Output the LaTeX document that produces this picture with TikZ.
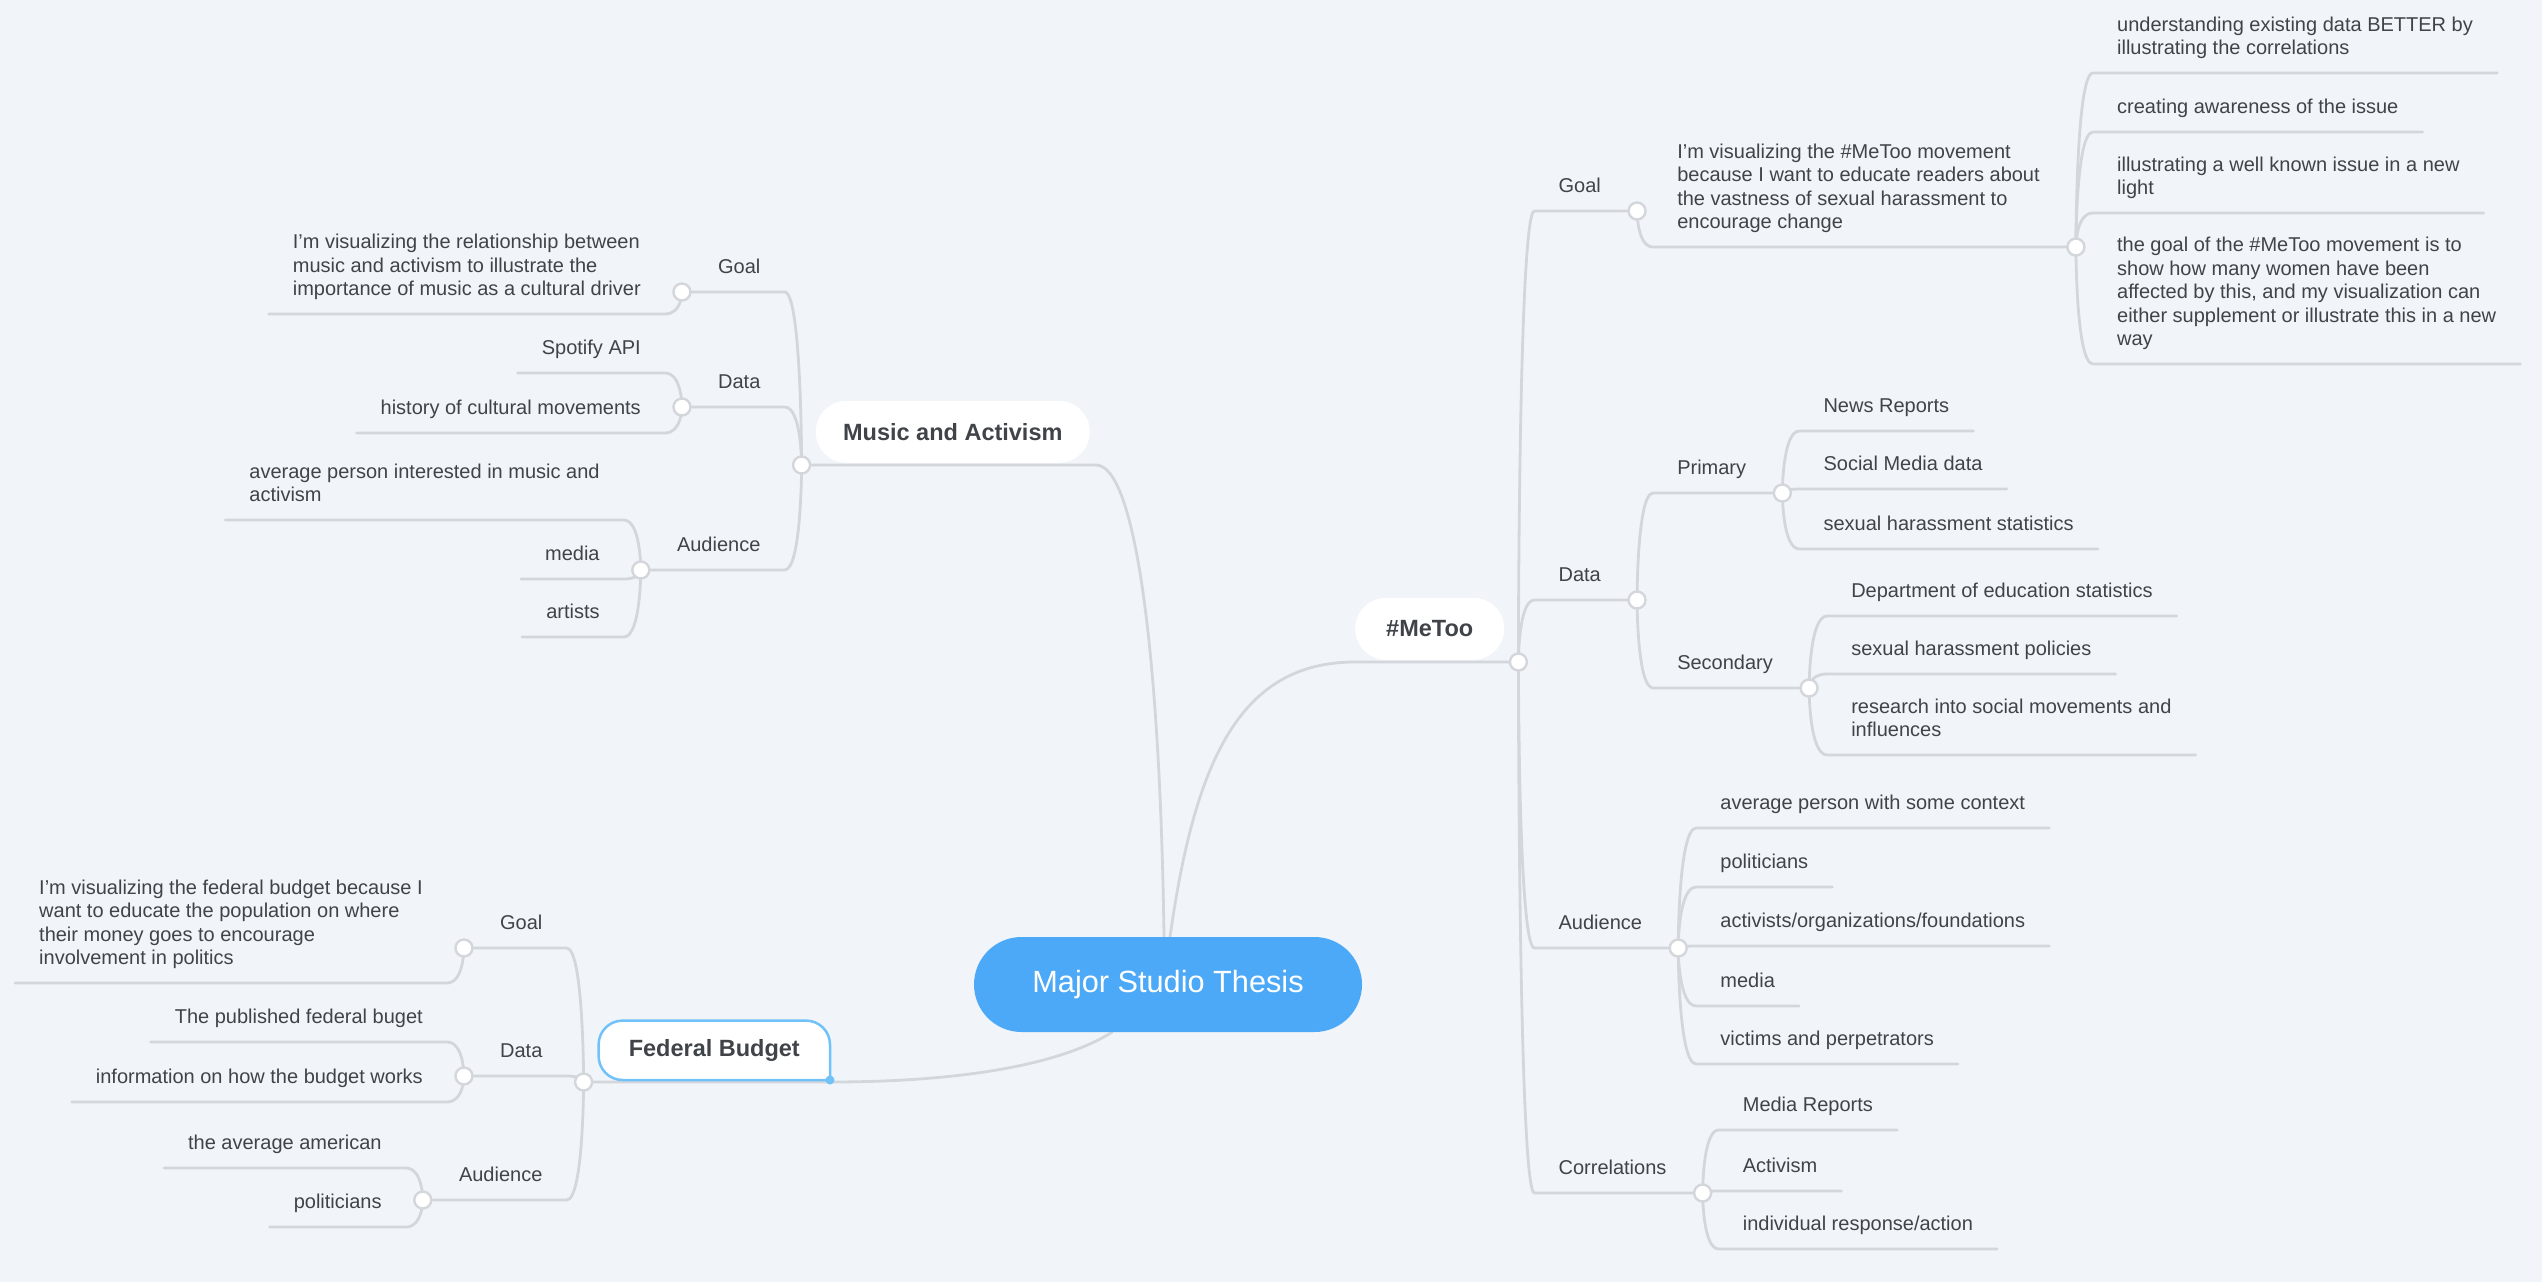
\documentclass[tikz,border=0pt]{standalone}
\usepackage{fontspec}
\setmainfont{Liberation Sans}
\usetikzlibrary{calc}
\definecolor{bgc}{HTML}{F1F4F8}
\definecolor{linec}{HTML}{D3D6DB}
\definecolor{txt}{HTML}{404449}
\definecolor{rootc}{HTML}{4CA9F8}
\definecolor{selc}{HTML}{72C2FA}
\pgfdeclarelayer{bglayer}
\pgfdeclarelayer{linelayer}
\pgfsetlayers{bglayer,linelayer,main}
\newcommand\leaffont{\fontsize{20}{23.5}\selectfont}
\newcommand\topfont{\fontsize{23.5}{28}\selectfont\bfseries}
\newcommand\rootfont{\fontsize{30.7}{36}\selectfont}
\newcommand\rbr[3]{\draw[conn] (#1.center) .. controls (#1.center) and (#1.center |- #2.south west) .. (#2.south west) -- (#3);}
\newcommand\lbr[3]{\draw[conn] (#1.center) .. controls (#1.center) and (#1.center |- #2.south east) .. (#2.south east) -- (#3);}
\begin{document}
\begin{tikzpicture}[x=1pt,y=-1pt,
  leaf/.style={inner xsep=24pt, inner ysep=11pt, font=\leaffont, text=txt, align=left},
  rleaf/.style={leaf, anchor=south west},
  lleaf/.style={leaf, anchor=south east},
  hub/.style={circle, fill=white, draw=linec, line width=2.4pt, minimum size=17pt, inner sep=0pt},
  topic/.style={fill=white, rounded corners=31pt, minimum height=62pt, inner sep=0pt, font=\topfont, text=txt},
  rootnode/.style={fill=rootc, rounded corners=47.5pt, minimum width=388pt, minimum height=95pt, inner sep=0pt, font=\rootfont, text=white},
  conn/.style={draw=linec, line width=2.8pt, line cap=round}]
\useasboundingbox (0,0) rectangle (2542,1282);
\begin{pgfonlayer}{bglayer}
\fill[bgc] (0,0) rectangle (2542,1282);
\end{pgfonlayer}

% root
\node[rootnode] (root) at (1168,984.5) {Major Studio Thesis};

% ===== #MeToo =====
\node[topic, anchor=south west, minimum width=149pt] (metoo) at (1355,660) {\#MeToo};
\node[hub] (mH) at ($(metoo.south east)+(14,2)$) {};
\coordinate (mX) at ($(mH)+(16,0)$);

\node[rleaf] (mGoal) at (mX |- 0,211) {Goal\strut};
\node[hub] (mGoalH) at ($(mGoal.south east)+(12,0)$) {};
\coordinate (mGoalX) at ($(mGoalH)+(16,0)$);
\node[rleaf] (mGoalT) at (mGoalX |- 0,247) {I'm visualizing the \#MeToo movement\\because I want to educate readers about\\the vastness of sexual harassment to\\encourage change\strut};
\node[hub] (mGoalTH) at ($(mGoalT.south east)+(12,0)$) {};
\coordinate (mGoalTX) at ($(mGoalTH)+(17,0)$);
\node[rleaf] (g1) at (mGoalTX |- 0,73) {understanding existing data BETTER by\\illustrating the correlations\strut};
\node[rleaf] (g2) at (mGoalTX |- 0,132) {creating awareness of the issue\strut};
\node[rleaf] (g3) at (mGoalTX |- 0,213) {illustrating a well known issue in a new\\light\strut};
\node[rleaf] (g4) at (mGoalTX |- 0,364) {the goal of the \#MeToo movement is to\\show how many women have been\\affected by this, and my visualization can\\either supplement or illustrate this in a new\\way\strut};

\node[rleaf] (mData) at (mX |- 0,600) {Data\strut};
\node[hub] (mDataH) at ($(mData.south east)+(12,0)$) {};
\coordinate (mDataX) at ($(mDataH)+(16,0)$);
\node[rleaf] (prim) at (mDataX |- 0,493) {Primary\strut};
\node[hub] (primH) at ($(prim.south east)+(12,0)$) {};
\coordinate (primX) at ($(primH)+(17,0)$);
\node[rleaf] (p1) at (primX |- 0,431) {News Reports\strut};
\node[rleaf] (p2) at (primX |- 0,489) {Social Media data\strut};
\node[rleaf] (p3) at (primX |- 0,549) {sexual harassment statistics\strut};
\node[rleaf] (sec) at (mDataX |- 0,688) {Secondary\strut};
\node[hub] (secH) at ($(sec.south east)+(12,0)$) {};
\coordinate (secX) at ($(secH)+(18,0)$);
\node[rleaf] (s1) at (secX |- 0,616) {Department of education statistics\strut};
\node[rleaf] (s2) at (secX |- 0,674) {sexual harassment policies\strut};
\node[rleaf] (s3) at (secX |- 0,755) {research into social movements and\\influences\strut};

\node[rleaf] (mAud) at (mX |- 0,948) {Audience\strut};
\node[hub] (mAudH) at ($(mAud.south east)+(12,0)$) {};
\coordinate (mAudX) at ($(mAudH)+(18,0)$);
\node[rleaf] (a1) at (mAudX |- 0,828) {average person with some context\strut};
\node[rleaf] (a2) at (mAudX |- 0,887) {politicians\strut};
\node[rleaf] (a3) at (mAudX |- 0,946) {activists/organizations/foundations\strut};
\node[rleaf] (a4) at (mAudX |- 0,1006) {media\strut};
\node[rleaf] (a5) at (mAudX |- 0,1064) {victims and perpetrators\strut};

\node[rleaf] (mCor) at (mX |- 0,1193) {Correlations\strut};
\node[hub] (mCorH) at ($(mCor.south east)+(12,0)$) {};
\coordinate (mCorX) at ($(mCorH)+(16,0)$);
\node[rleaf] (c1) at (mCorX |- 0,1130) {Media Reports\strut};
\node[rleaf] (c2) at (mCorX |- 0,1191) {Activism\strut};
\node[rleaf] (c3) at (mCorX |- 0,1249) {individual response/action\strut};

% ===== Music and Activism =====
\node[topic, anchor=south east, minimum width=274pt] (music) at (1090,463) {Music and Activism};
\node[hub] (muH) at ($(music.south west)+(-14,2)$) {};
\coordinate (muX) at ($(muH)+(-17,0)$);
\node[lleaf] (muGoal) at (muX |- 0,292) {Goal\strut};
\node[hub] (muGoalH) at ($(muGoal.south west)+(-12,0)$) {};
\coordinate (muGoalX) at ($(muGoalH)+(-17,0)$);
\node[lleaf] (muGoalT) at (muGoalX |- 0,314) {I'm visualizing the relationship between\\music and activism to illustrate the\\importance of music as a cultural driver\strut};
\node[lleaf] (muData) at (muX |- 0,407) {Data\strut};
\node[hub] (muDataH) at ($(muData.south west)+(-12,0)$) {};
\coordinate (muDataX) at ($(muDataH)+(-17,0)$);
\node[lleaf] (md1) at (muDataX |- 0,373) {Spotify API\strut};
\node[lleaf] (md2) at (muDataX |- 0,433) {history of cultural movements\strut};
\node[lleaf] (muAud) at (muX |- 0,570) {Audience\strut};
\node[hub] (muAudH) at ($(muAud.south west)+(-12,0)$) {};
\coordinate (muAudX) at ($(muAudH)+(-17,0)$);
\node[lleaf] (ma1) at (muAudX |- 0,520) {average person interested in music and\\activism\strut};
\node[lleaf] (ma2) at (muAudX |- 0,579) {media\strut};
\node[lleaf] (ma3) at (muAudX |- 0,637) {artists\strut};

% ===== Federal Budget =====
\node[fill=white, rounded corners=24pt, minimum width=231pt, minimum height=59pt, inner sep=0pt, font=\topfont, text=txt, anchor=south east] (fed) at (830,1080) {Federal Budget};
\fill[white] ($(fed.south east)+(-24,-24)$) rectangle (fed.south east);
\draw[selc, line width=2.5pt, rounded corners=24pt] (fed.south east) -- (fed.north east) -- (fed.north west) -- (fed.south west) -- (fed.south east);
\fill[selc] (fed.south east) circle[radius=4.5pt];
\node[hub] (fH) at ($(fed.south west)+(-15,2)$) {};
\coordinate (fX) at ($(fH)+(-17,0)$);
\node[lleaf] (fGoal) at (fX |- 0,948) {Goal\strut};
\node[hub] (fGoalH) at ($(fGoal.south west)+(-12,0)$) {};
\coordinate (fGoalX) at ($(fGoalH)+(-17,0)$);
\node[lleaf] (fGoalT) at (fGoalX |- 0,983) {I'm visualizing the federal budget because I\\want to educate the population on where\\their money goes to encourage\\involvement in politics\strut};
\node[lleaf] (fData) at (fX |- 0,1076) {Data\strut};
\node[hub] (fDataH) at ($(fData.south west)+(-12,0)$) {};
\coordinate (fDataX) at ($(fDataH)+(-17,0)$);
\node[lleaf] (fd1) at (fDataX |- 0,1042) {The published federal buget\strut};
\node[lleaf] (fd2) at (fDataX |- 0,1102) {information on how the budget works\strut};
\node[lleaf] (fAud) at (fX |- 0,1200) {Audience\strut};
\node[hub] (fAudH) at ($(fAud.south west)+(-12,0)$) {};
\coordinate (fAudX) at ($(fAudH)+(-17,0)$);
\node[lleaf] (fa1) at (fAudX |- 0,1168) {the average american\strut};
\node[lleaf] (fa2) at (fAudX |- 0,1227) {politicians\strut};

% ===== connectors =====
\begin{pgfonlayer}{linelayer}
\draw[conn] ($(root.north)+(2,0)$) .. controls (1195,760) and (1240,662) .. ($(metoo.south west)+(0,2)$) -- (mH.center);
\draw[conn] ($(root.north)+(-4,0)$) .. controls (1160,650) and (1135,465) .. ($(music.south east)+(6,2)$) -- (muH.center);
\draw[conn] ($(root.south)+(-56,0)$) .. controls (1060,1065) and (960,1082) .. ($(fed.south east)+(0,2)$) -- (fH.center);

\rbr{mH}{mGoal}{mGoalH.center}
\rbr{mGoalH}{mGoalT}{mGoalTH.center}
\rbr{mGoalTH}{g1}{g1.south east}
\rbr{mGoalTH}{g2}{g2.south east}
\rbr{mGoalTH}{g3}{g3.south east}
\rbr{mGoalTH}{g4}{g4.south east}
\rbr{mH}{mData}{mDataH.center}
\rbr{mDataH}{prim}{primH.center}
\rbr{primH}{p1}{p1.south east}
\rbr{primH}{p2}{p2.south east}
\rbr{primH}{p3}{p3.south east}
\rbr{mDataH}{sec}{secH.center}
\rbr{secH}{s1}{s1.south east}
\rbr{secH}{s2}{s2.south east}
\rbr{secH}{s3}{s3.south east}
\rbr{mH}{mAud}{mAudH.center}
\rbr{mAudH}{a1}{a1.south east}
\rbr{mAudH}{a2}{a2.south east}
\rbr{mAudH}{a3}{a3.south east}
\rbr{mAudH}{a4}{a4.south east}
\rbr{mAudH}{a5}{a5.south east}
\rbr{mH}{mCor}{mCorH.center}
\rbr{mCorH}{c1}{c1.south east}
\rbr{mCorH}{c2}{c2.south east}
\rbr{mCorH}{c3}{c3.south east}

\lbr{muH}{muGoal}{muGoalH.center}
\lbr{muGoalH}{muGoalT}{muGoalT.south west}
\lbr{muH}{muData}{muDataH.center}
\lbr{muDataH}{md1}{md1.south west}
\lbr{muDataH}{md2}{md2.south west}
\lbr{muH}{muAud}{muAudH.center}
\lbr{muAudH}{ma1}{ma1.south west}
\lbr{muAudH}{ma2}{ma2.south west}
\lbr{muAudH}{ma3}{ma3.south west}

\lbr{fH}{fGoal}{fGoalH.center}
\lbr{fGoalH}{fGoalT}{fGoalT.south west}
\lbr{fH}{fData}{fDataH.center}
\lbr{fDataH}{fd1}{fd1.south west}
\lbr{fDataH}{fd2}{fd2.south west}
\lbr{fH}{fAud}{fAudH.center}
\lbr{fAudH}{fa1}{fa1.south west}
\lbr{fAudH}{fa2}{fa2.south west}
\end{pgfonlayer}
\end{tikzpicture}
\end{document}
